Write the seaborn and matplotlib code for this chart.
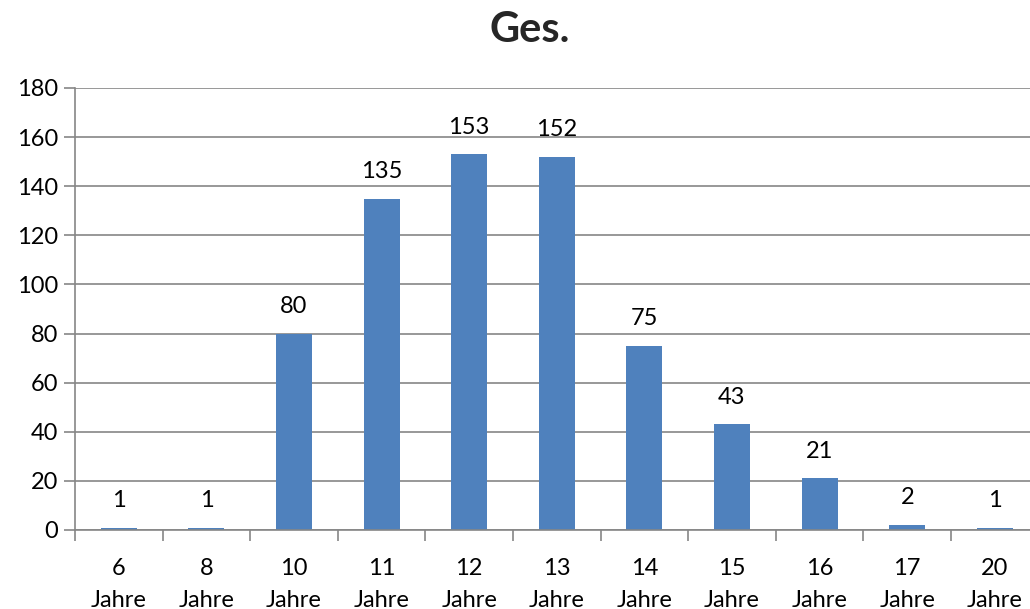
import matplotlib
matplotlib.use("Agg")
import matplotlib.pyplot as plt
import seaborn as sns
import pandas as pd

categories = ["6\nJahre", "8\nJahre", "10\nJahre", "11\nJahre", "12\nJahre", "13\nJahre",
              "14\nJahre", "15\nJahre", "16\nJahre", "17\nJahre", "20\nJahre"]
values = [1, 1, 80, 135, 153, 152, 75, 43, 21, 2, 1]
yticks = [0, 20, 40, 60, 80, 100, 120, 140, 160, 180]
title = "Ges."

sns.set_theme(style="white")
plt.rcParams['font.family'] = ['Lato', 'DejaVu Sans']

df = pd.DataFrame({"cat": categories, "val": values})

fig = plt.figure(figsize=(10.30, 6.09), dpi=100)
ax = fig.add_axes([75/1030, 1-530/609, 11*87.6/1030, (530-88)/609])

sns.barplot(data=df, x="cat", y="val", color="#4F81BD", saturation=1, width=0.41,
            linewidth=0, edgecolor="none", ax=ax)

ax.set_xlim(-0.5, 10.5)
ax.set_ylim(0, 180)
ax.set_yticks(yticks)
ax.set_yticklabels([str(t) for t in yticks], fontsize=17, color="black")
ax.set_xlabel("")
ax.set_ylabel("")
ax.grid(axis="y", color="#868686", linewidth=1.2)
ax.set_axisbelow(True)
for s in ["top", "right"]:
    ax.spines[s].set_visible(False)
for s in ["left", "bottom"]:
    ax.spines[s].set_color("#868686")
    ax.spines[s].set_linewidth(1.2)

ax.tick_params(axis="y", which="major", length=8, width=1.2, color="#868686", direction="out", pad=4, left=True)
ax.set_xticks(range(len(categories)))
ax.set_xticklabels(categories, fontsize=17, color="black", linespacing=1.65)
ax.tick_params(axis="x", which="major", length=0, pad=20)
ax.set_xticks([i - 0.5 for i in range(len(categories) + 1)], minor=True)
ax.tick_params(axis="x", which="minor", length=8, width=1.2, color="#868686", direction="out", bottom=True)

for c in ax.containers:
    ax.bar_label(c, labels=[str(v) for v in values], padding=12, fontsize=17, color="black")

fig.text(530/1030, 1-30/609, title, ha="center", va="center", fontsize=30, fontweight="bold")

fig.savefig("out.png", dpi=100)
